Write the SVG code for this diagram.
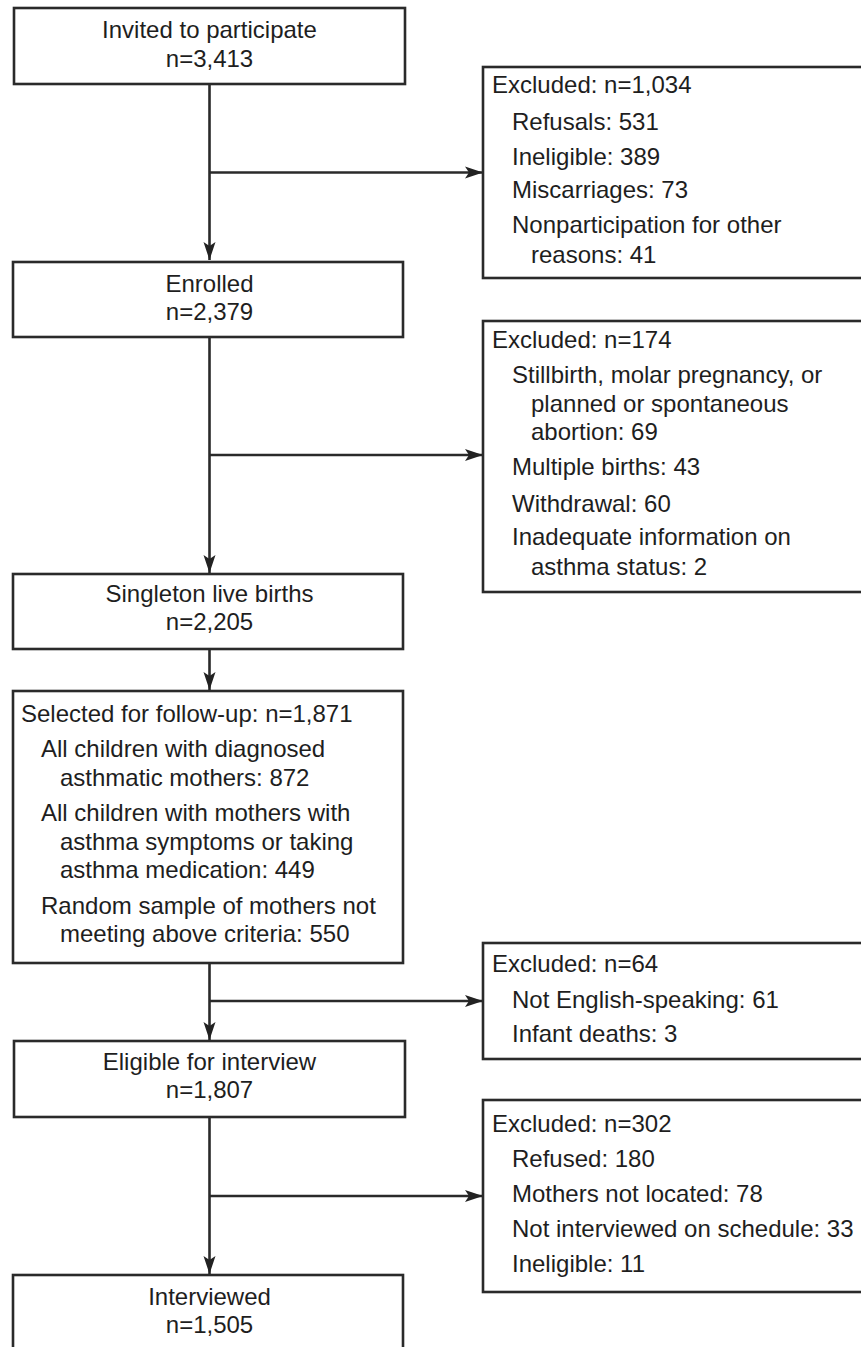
<svg xmlns="http://www.w3.org/2000/svg" width="861" height="1347" viewBox="0 0 861 1347">
<defs>
<marker id="arr" markerUnits="userSpaceOnUse" markerWidth="20" markerHeight="14" refX="18" refY="7" orient="auto">
<path d="M0,1 L18,7 L0,13 L4,7 Z" fill="#222"/>
</marker>
<style>
.box{fill:#fff;stroke:#2a2a2a;stroke-width:2.6}
.t{font-family:"Liberation Sans",Arial,sans-serif;font-size:24px;fill:#1e1e1e}
.c{text-anchor:middle}
.ln{stroke:#2a2a2a;stroke-width:2.6;fill:none}
</style>
</defs>
<rect width="861" height="1347" fill="#fff"/>

<g id="connectors">
<line class="ln" x1="209.5" y1="84" x2="209.5" y2="260" marker-end="url(#arr)"/>
<line class="ln" x1="209.5" y1="172.5" x2="483" y2="172.5" marker-end="url(#arr)"/>
<line class="ln" x1="209.5" y1="337" x2="209.5" y2="573" marker-end="url(#arr)"/>
<line class="ln" x1="209.5" y1="455" x2="483" y2="455" marker-end="url(#arr)"/>
<line class="ln" x1="209.5" y1="649" x2="209.5" y2="690" marker-end="url(#arr)"/>
<line class="ln" x1="209.5" y1="963" x2="209.5" y2="1040" marker-end="url(#arr)"/>
<line class="ln" x1="209.5" y1="1001" x2="483" y2="1001" marker-end="url(#arr)"/>
<line class="ln" x1="209.5" y1="1117" x2="209.5" y2="1274" marker-end="url(#arr)"/>
<line class="ln" x1="209.5" y1="1196" x2="483" y2="1196" marker-end="url(#arr)"/>
</g>

<g id="invited">
<rect class="box" x="14" y="8" width="391" height="76"/>
<text class="t c" x="209.5" y="38">Invited to participate</text>
<text class="t c" x="209.5" y="67">n=3,413</text>
</g>

<g id="excluded1">
<rect class="box" x="483" y="67" width="390" height="211"/>
<text class="t" x="492" y="93">Excluded: n=1,034</text>
<text class="t" x="512" y="130">Refusals: 531</text>
<text class="t" x="512" y="165">Ineligible: 389</text>
<text class="t" x="512" y="198">Miscarriages: 73</text>
<text class="t" x="512" y="233">Nonparticipation for other</text>
<text class="t" x="531" y="263">reasons: 41</text>
</g>

<g id="enrolled">
<rect class="box" x="13" y="262" width="390" height="75"/>
<text class="t c" x="209.5" y="292">Enrolled</text>
<text class="t c" x="209.5" y="320">n=2,379</text>
</g>

<g id="excluded2">
<rect class="box" x="483" y="321" width="390" height="271"/>
<text class="t" x="492" y="348">Excluded: n=174</text>
<text class="t" x="512" y="383">Stillbirth, molar pregnancy, or</text>
<text class="t" x="531" y="412">planned or spontaneous</text>
<text class="t" x="531" y="440">abortion: 69</text>
<text class="t" x="512" y="475">Multiple births: 43</text>
<text class="t" x="512" y="512">Withdrawal: 60</text>
<text class="t" x="512" y="545">Inadequate information on</text>
<text class="t" x="531" y="575">asthma status: 2</text>
</g>

<g id="singleton">
<rect class="box" x="13" y="574" width="390" height="75"/>
<text class="t c" x="209.5" y="602">Singleton live births</text>
<text class="t c" x="209.5" y="630">n=2,205</text>
</g>

<g id="selected">
<rect class="box" x="13" y="691" width="390" height="272"/>
<text class="t" x="21" y="722">Selected for follow-up: n=1,871</text>
<text class="t" x="41" y="757">All children with diagnosed</text>
<text class="t" x="60" y="786">asthmatic mothers: 872</text>
<text class="t" x="41" y="821">All children with mothers with</text>
<text class="t" x="60" y="850">asthma symptoms or taking</text>
<text class="t" x="60" y="878">asthma medication: 449</text>
<text class="t" x="41" y="914">Random sample of mothers not</text>
<text class="t" x="60" y="942">meeting above criteria: 550</text>
</g>

<g id="excluded3">
<rect class="box" x="483" y="943" width="390" height="116"/>
<text class="t" x="492" y="972">Excluded: n=64</text>
<text class="t" x="512" y="1008">Not English-speaking: 61</text>
<text class="t" x="512" y="1042">Infant deaths: 3</text>
</g>

<g id="eligible">
<rect class="box" x="14" y="1041" width="391" height="76"/>
<text class="t c" x="209.5" y="1070">Eligible for interview</text>
<text class="t c" x="209.5" y="1098">n=1,807</text>
</g>

<g id="excluded4">
<rect class="box" x="483" y="1100" width="390" height="192"/>
<text class="t" x="492" y="1132">Excluded: n=302</text>
<text class="t" x="512" y="1167">Refused: 180</text>
<text class="t" x="512" y="1202">Mothers not located: 78</text>
<text class="t" x="512" y="1237">Not interviewed on schedule: 33</text>
<text class="t" x="512" y="1272">Ineligible: 11</text>
</g>

<g id="interviewed">
<rect class="box" x="13" y="1275" width="390" height="90"/>
<text class="t c" x="209.5" y="1305">Interviewed</text>
<text class="t c" x="209.5" y="1333">n=1,505</text>
</g>
</svg>
